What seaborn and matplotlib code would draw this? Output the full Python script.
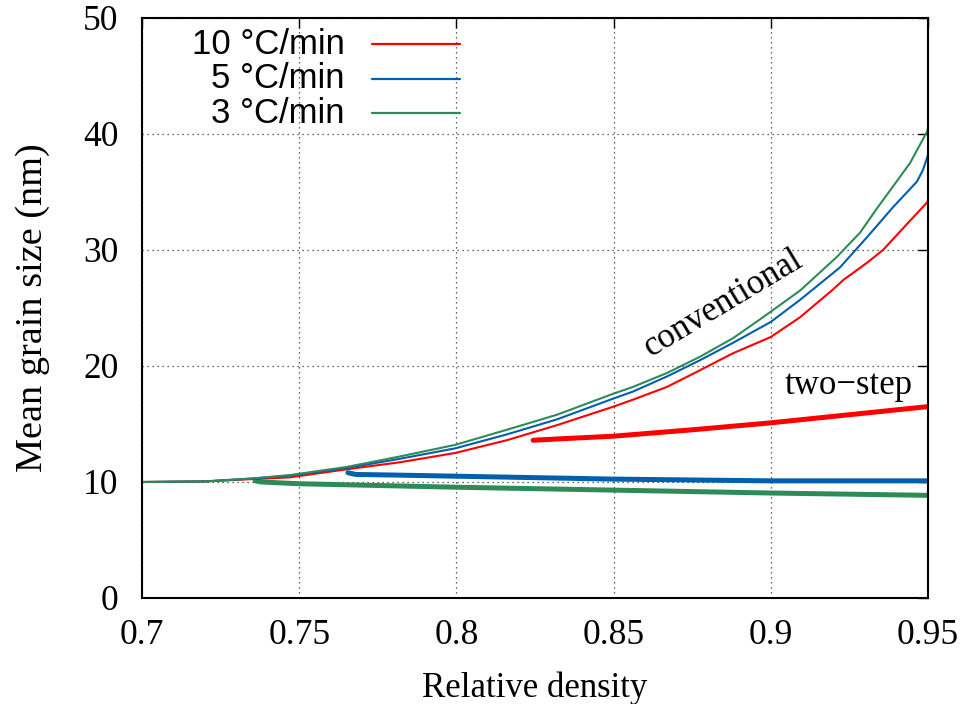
import numpy as np
import pandas as pd
import matplotlib
matplotlib.use("Agg")
import matplotlib.pyplot as plt
import seaborn as sns

# ---- data ----
rates = ["10 °C/min", "5 °C/min", "3 °C/min"]
colors = ["#ff0000", "#0060ad", "#2e8b57"]

# conventional sintering
conv_10_x = [0.70, 0.72, 0.735, 0.747, 0.7652, 0.782, 0.7996, 0.816, 0.832, 0.85, 0.8562, 0.867,
             0.8765, 0.888, 0.90, 0.9093, 0.9198, 0.923, 0.9306, 0.9357, 0.9425, 0.9497, 0.95]
conv_10_y = [10.0, 10.05, 10.25, 10.4, 11.1, 11.7, 12.5, 13.6, 14.9, 16.5, 17.1, 18.2,
             19.5, 21.1, 22.5, 24.2, 26.6, 27.4, 28.9, 30.0, 32.0, 34.1, 34.3]
conv_5_x = [0.70, 0.72, 0.735, 0.747, 0.765, 0.782, 0.7996, 0.816, 0.832, 0.85, 0.8562, 0.867,
            0.8775, 0.888, 0.90, 0.9093, 0.922, 0.9306, 0.9389, 0.9465, 0.9484, 0.95]
conv_5_y = [10.0, 10.05, 10.3, 10.55, 11.2, 12.0, 12.9, 14.1, 15.4, 17.2, 17.8, 19.1,
            20.5, 22.0, 23.8, 25.7, 28.5, 31.1, 33.7, 35.9, 36.9, 38.2]
conv_3_x = [0.70, 0.72, 0.735, 0.7471, 0.7652, 0.782, 0.7996, 0.816, 0.832, 0.8498, 0.8562, 0.867,
            0.8775, 0.888, 0.8975, 0.9093, 0.921, 0.9284, 0.9338, 0.940, 0.9443, 0.9497, 0.95]
conv_3_y = [10.0, 10.05, 10.3, 10.6, 11.3, 12.2, 13.2, 14.5, 15.8, 17.6, 18.2, 19.4,
            20.8, 22.4, 24.2, 26.5, 29.4, 31.5, 33.6, 35.9, 37.5, 40.2, 40.5]

# two-step sintering
two_10_x = [0.8244, 0.835, 0.85, 0.875, 0.90, 0.925, 0.95]
two_10_y = [13.6, 13.75, 13.95, 14.5, 15.1, 15.8, 16.5]
two_5_x = [0.7655, 0.768, 0.78, 0.80, 0.85, 0.90, 0.95]
two_5_y = [10.8, 10.65, 10.6, 10.5, 10.25, 10.1, 10.1]
two_3_x = [0.736, 0.738, 0.75, 0.80, 0.85, 0.90, 0.95]
two_3_y = [10.1, 10.0, 9.85, 9.55, 9.3, 9.05, 8.85]

x_ticks = [0.7, 0.75, 0.8, 0.85, 0.9, 0.95]
x_tick_labels = ["0.7", "0.75", "0.8", "0.85", "0.9", "0.95"]
y_ticks = [0, 10, 20, 30, 40, 50]

# ---- style ----
sns.set_style("white")
plt.rcParams["font.family"] = ["Liberation Serif", "DejaVu Serif"]
plt.rcParams["text.color"] = "black"
plt.rcParams["axes.labelcolor"] = "black"

fig = plt.figure(figsize=(9.65, 7.04), dpi=100)
ax = fig.add_axes([142 / 965, 106 / 704, 786 / 965, 580 / 704])

conv = [(conv_10_x, conv_10_y), (conv_5_x, conv_5_y), (conv_3_x, conv_3_y)]
two = [(two_10_x, two_10_y), (two_5_x, two_5_y), (two_3_x, two_3_y)]

for (xs, ys), c in zip(two, colors):
    df = pd.DataFrame({"x": xs, "y": ys})
    sns.lineplot(data=df, x="x", y="y", ax=ax, color=c, lw=3.6, sort=False,
                 estimator=None, legend=False, solid_capstyle="round")
for (xs, ys), c in zip(conv, colors):
    df = pd.DataFrame({"x": xs, "y": ys})
    sns.lineplot(data=df, x="x", y="y", ax=ax, color=c, lw=1.5, sort=False,
                 estimator=None, legend=False)

ax.set_xlim(0.7, 0.95)
ax.set_ylim(0, 50)
ax.set_xticks(x_ticks)
ax.set_xticklabels(x_tick_labels)
ax.set_yticks(y_ticks)
ax.tick_params(axis="both", which="major", direction="in", length=7, width=1.0,
               top=True, right=True, labelsize=25.5, colors="black", labelcolor="black")
ax.tick_params(axis="x", pad=15)
ax.tick_params(axis="y", pad=17)
ax.grid(True, color="black", linestyle=(0, (1, 3)), linewidth=0.9, alpha=0.8)
ax.set_axisbelow(True)
for s in ax.spines.values():
    s.set_color("black")
    s.set_linewidth(1.5)

ax.set_xlabel("Relative density", fontsize=25, labelpad=14)
ax.set_ylabel("Mean grain size (nm)", fontsize=27.5, labelpad=24)

# annotations
ax.text(0.8848, 25.4, "conventional", fontsize=25, rotation=31,
        ha="center", va="center", rotation_mode="anchor")
ax.text(0.9246, 18.3, "two\u2212step", fontsize=25, ha="center", va="center")

# legend (right-aligned sans text, sample line to the right)
leg_y = [0.955, 0.895, 0.836]
for lab, c, yy in zip(rates, colors, leg_y):
    ax.text(0.258, yy, lab, transform=ax.transAxes, ha="right", va="center",
            fontsize=25, family=["Liberation Sans", "DejaVu Sans"])
    ax.plot([0.2926, 0.4046], [yy, yy], transform=ax.transAxes, color=c, lw=1.6)

fig.savefig("out.png", dpi=100)
